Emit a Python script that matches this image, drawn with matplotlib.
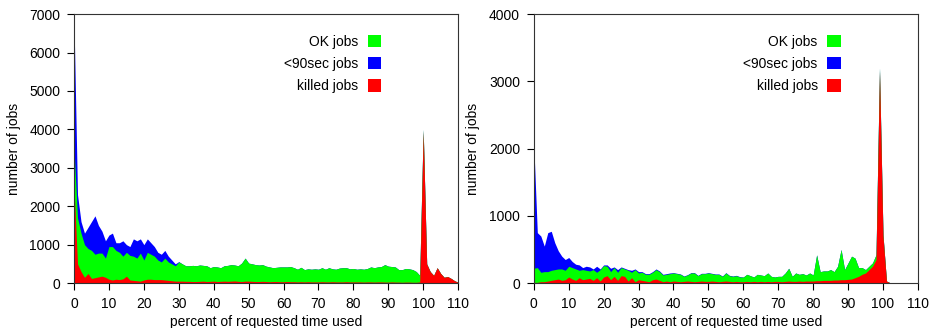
import numpy as np
import matplotlib.pyplot as plt

plt.rcParams['font.family'] = ['Liberation Sans', 'DejaVu Sans']

percent = np.arange(0, 111)

# left panel: jobs per percent bin
left_killed = [2500, 500, 300, 150, 250, 120, 140, 160, 180, 150,
               100, 80, 100, 90, 110, 180, 80, 70, 60, 50,
               80, 100, 100, 90, 90, 90, 80, 70, 60, 50,
               50, 50, 45, 45, 40, 40, 45, 50, 40, 45,
               50, 40, 45, 50, 45, 50, 55, 45, 40, 50,
               50, 45, 40, 40, 45, 40, 35, 40, 40, 35,
               35, 40, 35, 35, 30, 35, 30, 35, 30, 30,
               30, 35, 30, 30, 35, 30, 30, 30, 35, 30,
               30, 30, 30, 25, 30, 30, 25, 30, 30, 25,
               25, 30, 25, 25, 20, 25, 25, 20, 20, 30,
               3950, 500, 300, 200, 400, 250, 150, 170, 120, 60, 20]
left_ok = [1000, 1200, 1000, 850, 650, 730, 610, 620, 600, 500,
           850, 870, 750, 710, 590, 620, 640, 630, 590, 730,
           520, 700, 650, 610, 510, 460, 570, 480, 440, 400,
           500, 450, 405, 405, 420, 410, 425, 410, 410, 355,
           380, 380, 355, 400, 415, 430, 415, 405, 480, 600,
           470, 455, 440, 430, 435, 400, 385, 360, 370, 385,
           385, 380, 395, 365, 330, 375, 320, 335, 330, 340,
           330, 365, 330, 370, 335, 330, 360, 370, 365, 340,
           350, 330, 340, 335, 350, 390, 375, 390, 400, 455,
           415, 400, 395, 325, 330, 355, 345, 330, 280, 170,
           50, 0, 0, 0, 0, 0, 0, 0, 0, 0, 0]
left_short = [3300, 600, 300, 300, 550, 750, 1000, 720, 570, 450,
              300, 350, 200, 250, 400, 200, 230, 450, 450, 370,
              400, 350, 300, 250, 200, 200, 200, 150, 100, 50,
              10] + [0] * 80

# right panel
right_killed = [10, 10, 20, 20, 30, 40, 50, 60, 40, 50,
                90, 60, 40, 80, 50, 60, 70, 40, 80, 30,
                90, 110, 50, 100, 40, 110, 100, 30, 80, 20,
                50, 40, 30, 20, 50, 60, 40, 20, 30, 20,
                30, 25, 20, 25, 30, 25, 20, 25, 30, 25,
                25, 30, 25, 20, 25, 30, 25, 20, 25, 20,
                20, 25, 20, 25, 20, 25, 20, 25, 20, 25,
                25, 20, 25, 30, 25, 25, 30, 25, 30, 30,
                30, 35, 35, 40, 40, 40, 45, 45, 50, 50,
                55, 60, 80, 100, 130, 150, 200, 250, 350, 3150,
                700, 30, 5, 0, 0, 0, 0, 0, 0, 0, 0]
right_ok = [210, 220, 140, 150, 140, 150, 150, 150, 170, 140,
            160, 170, 170, 110, 150, 130, 110, 160, 80, 170,
            170, 140, 120, 130, 120, 120, 110, 160, 80, 180,
            100, 120, 100, 110, 110, 140, 130, 100, 100, 120,
            120, 115, 110, 75, 90, 125, 130, 85, 110, 115,
            125, 110, 105, 110, 75, 120, 85, 80, 85, 70,
            70, 105, 90, 65, 110, 95, 90, 125, 80, 65,
            75, 80, 125, 190, 75, 125, 100, 115, 90, 120,
            90, 385, 135, 140, 140, 160, 125, 205, 450, 150,
            245, 340, 290, 130, 100, 50, 50, 50, 70, 50,
            20, 0, 0, 0, 0, 0, 0, 0, 0, 0, 0]
right_short = [1830, 520, 540, 380, 580, 580, 400, 270, 190, 160,
               130, 90, 70, 80, 30, 60, 60, 10, 90, 10,
               10, 20, 50, 10, 40, 10, 10, 10, 30, 10,
               20, 10, 10, 10, 10, 10, 10, 10, 10, 10] + [5] * 20 + [0] * 51

labels = ['OK jobs', '<90sec jobs', 'killed jobs']
green, blue, red = '#00ff00', '#0000ff', '#ff0000'

fig = plt.figure(figsize=(9.3, 3.28), dpi=100)
ax1 = fig.add_axes([0.0796, 0.137, 0.413, 0.820])
ax2 = fig.add_axes([0.574, 0.137, 0.413, 0.820])

panels = [(ax1, left_killed, left_ok, left_short, 7000),
          (ax2, right_killed, right_ok, right_short, 4000)]

for ax, killed, ok, short, ymax in panels:
    killed = np.array(killed)
    ok_top = killed + np.array(ok)
    total = ok_top + np.array(short)
    hb = ax.fill_between(percent, 0, total, color=blue, lw=0)
    hg = ax.fill_between(percent, 0, ok_top, color=green, lw=0)
    hr = ax.fill_between(percent, 0, killed, color=red, lw=0)
    ax.set_xlim(0, 110)
    ax.set_ylim(0, ymax)
    ax.set_xticks(np.arange(0, 111, 10))
    ax.set_yticks(np.arange(0, ymax + 1, 1000))
    ax.tick_params(direction='out', length=5, width=0.8, labelsize=10, pad=5)
    for s in ax.spines.values():
        s.set_linewidth(0.8)
        s.set_color('#333333')
    ax.set_xlabel('percent of requested time used', fontsize=10, labelpad=3)
    ax.set_ylabel('number of jobs', fontsize=10, labelpad=6)
    ax.legend([hg, hb, hr], labels, loc='upper right', frameon=False,
              markerfirst=False, fontsize=10, handlelength=1.0, handleheight=1.0,
              handletextpad=0.7, labelspacing=0.6,
              bbox_to_anchor=(0.833, 0.97))

fig.savefig('out.png', dpi=100)
